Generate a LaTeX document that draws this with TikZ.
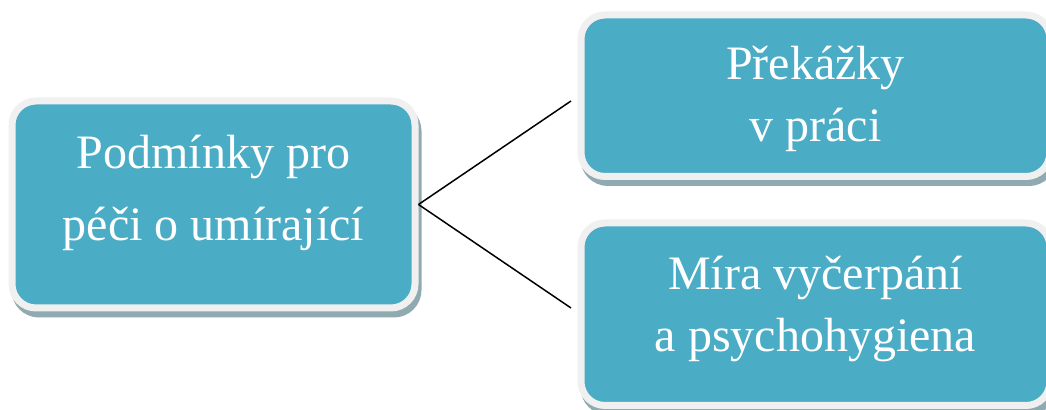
\documentclass[tikz,border=0pt]{standalone}
\usepackage{fontspec}
\usepackage{tikz}
\usepackage{xcolor}
\usetikzlibrary{shadows,positioning}
\setmainfont{Liberation Serif}

\definecolor{boxteal}{HTML}{4BACC6}
\definecolor{boxrim}{HTML}{F0F0F0}
\definecolor{boxshade}{HTML}{8FAAB0}

\begin{document}
\begin{tikzpicture}[
    x=0.5pt, y=-0.5pt,
    box/.style={rectangle, draw=boxrim, line width=3.5pt, fill=boxteal,
                rounded corners=12pt, align=center, text=white,
                font=\fontsize{24}{31}\selectfont, inner sep=0pt,
                drop shadow={shadow xshift=1.5pt, shadow yshift=-3pt,
                             fill=boxshade, draw=boxshade, line width=3.5pt,
                             opacity=1}},
    link/.style={line width=0.75pt, black}
]
    \useasboundingbox (0,0) rectangle (1046,410);
    \clip (0,0) rectangle (1046,410);

    \node[box, minimum width=201.5pt, minimum height=103.5pt,
          font=\fontsize{24}{36}\selectfont, text depth=17pt]
        (cond) at (213.5,204.5) {Podmínky pro\\péči o umírající};
    \node[box, minimum width=234.5pt, minimum height=80.75pt, text depth=2pt]
        (obst) at (815.5,95.75) {Překážky\\v práci};
    \node[box, minimum width=234.5pt, minimum height=91.25pt, text depth=10pt]
        (exh) at (815.5,314.25) {Míra vyčerpání\\a psychohygiena};

    \coordinate (obst-in) at (571,101);
    \coordinate (exh-in)  at (571,308);

    \draw[link] (cond.east) -- (obst-in);
    \draw[link] (cond.east) -- (exh-in);
\end{tikzpicture}
\end{document}
